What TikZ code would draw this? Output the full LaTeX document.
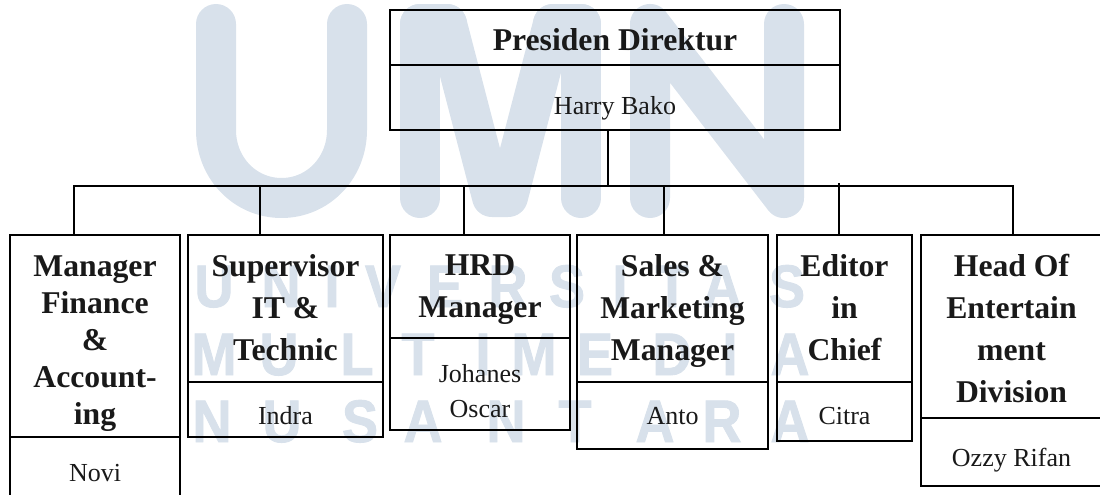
\documentclass[tikz,border=0pt]{standalone}
\usepackage{fontspec}
\setmainfont{Liberation Serif}
\setsansfont[FakeStretch=0.9,BoldFeatures={FakeBold=1.5}]{Liberation Sans}
\usetikzlibrary{positioning}
\definecolor{umnblue}{HTML}{D8E1EB}
\tikzset{
	headbox/.style={draw,line width=1.5pt,inner sep=0pt,outer sep=0pt,align=center,text=black!90,font=\fontsize{31.7}{42}\selectfont\bfseries},
	namebox/.style={draw,line width=1.5pt,inner sep=0pt,outer sep=0pt,align=center,text=black!90,font=\fontsize{26}{35}\selectfont},
	link/.style={line width=1.3pt},
	umnstem/.style={umnblue,line width=40pt,line cap=round,line join=round},
	umnletter/.style={anchor=base,inner sep=0pt,text=umnblue,font=\fontsize{60}{60}\selectfont\sffamily\bfseries}
}
\begin{document}
\begin{tikzpicture}[x=1pt,y=-1pt]
	\useasboundingbox (0,0) rectangle (1100,495);
	\clip (0,0) rectangle (1100,495);
	% watermark
	\draw[umnstem] (216,24)--(216,130) .. controls (216,168) and (245,198) .. (281.5,198) .. controls (318,198) and (347,168) .. (347,130)--(347,24);
	\draw[umnstem] (420,24)--(420,198);
	\draw[umnstem] (447,24)--(492,197)--(508,197)--(553,24);
	\draw[umnstem] (581,24)--(581,198);
	\draw[umnstem] (553,24)--(581,24);
	\draw[umnstem] (420,24)--(447,24);
	\draw[umnstem] (650,198)--(650,24)--(784,198)--(784,24);
	\foreach \ltr/\lx in {U/214,N/281,I/332,V/383,E/445,R/508,S/567,I/620,T/672,A/722,S/787}
		\node[umnletter] (first\lx) at (\lx,307) {\ltr};
	\foreach \ltr/\lx in {M/214,U/279,L/357,T/418,I/483,M/534,E/595,D/672,I/730,A/790}
		\node[umnletter] (second\lx) at (\lx,375) {\ltr};
	\foreach \ltr/\lx in {N/212,U/282,S/360,A/423,N/506,T/575,A/655,R/722,A/790}
		\node[umnletter] (third\lx) at (\lx,442) {\ltr};
	% boxes
	\node[headbox,anchor=north west,minimum width=450,text height=41,text depth=14] (preshead) at (390,10) {Presiden Direktur};
	\node[namebox,below=0pt of preshead,minimum width=450,text height=49,text depth=16] (presname) {Harry Bako};
	\node[headbox,anchor=north west,minimum width=170,text height=189,text depth=13,font=\fontsize{31.7}{37}\selectfont\bfseries] (financehead) at (10,235) {Manager\\Finance\\\&\\Account-\\ing};
	\node[namebox,below=0pt of financehead,minimum width=170,text height=44,text depth=30] (financename) {Novi};
	\node[headbox,anchor=north west,minimum width=195,text height=125,text depth=22] (ithead) at (188,235) {Supervisor\\IT \&\\Technic};
	\node[namebox,below=0pt of ithead,minimum width=195,text height=42,text depth=13] (itname) {Indra};
	\node[headbox,anchor=north west,minimum width=180,text height=82,text depth=21] (hrdhead) at (390,235) {HRD\\Manager};
	\node[namebox,below=0pt of hrdhead,minimum width=180,text height=79,text depth=13] (hrdname) {Johanes\\Oscar};
	\node[headbox,anchor=north west,minimum width=191,text height=125,text depth=22] (saleshead) at (577,235) {Sales \&\\Marketing\\Manager};
	\node[namebox,below=0pt of saleshead,minimum width=191,text height=42,text depth=25] (salesname) {Anto};
	\node[headbox,anchor=north west,minimum width=135,text height=125,text depth=22] (editorhead) at (777,235) {Editor\\in\\Chief};
	\node[namebox,below=0pt of editorhead,minimum width=135,text height=42,text depth=17] (editorname) {Citra};
	\node[headbox,anchor=north west,minimum width=181,text height=167,text depth=16] (enthead) at (921,235) {Head Of\\Entertain\\ment\\Division};
	\node[namebox,below=0pt of enthead,minimum width=181,text height=48,text depth=20] (entname) {Ozzy Rifan};
	% connectors
	\coordinate (trunk) at (608,186);
	\coordinate (busleft) at (74,186);
	\coordinate (busright) at (1013,186);
	\coordinate (editortop) at (839,183);
	\draw[link] (presname.south -| trunk)--(trunk);
	\draw[link] (financehead.north -| busleft)--(busleft)--(busright)--(enthead.north -| busright);
	\draw[link] (editortop)--(editorhead.north -| editortop);
	\foreach \bx/\bn in {260/ithead,464/hrdhead,664/saleshead}{
		\coordinate (drop\bn) at (\bx,186);
		\draw[link] (drop\bn)--(\bn.north -| drop\bn);
	}
\end{tikzpicture}
\end{document}
